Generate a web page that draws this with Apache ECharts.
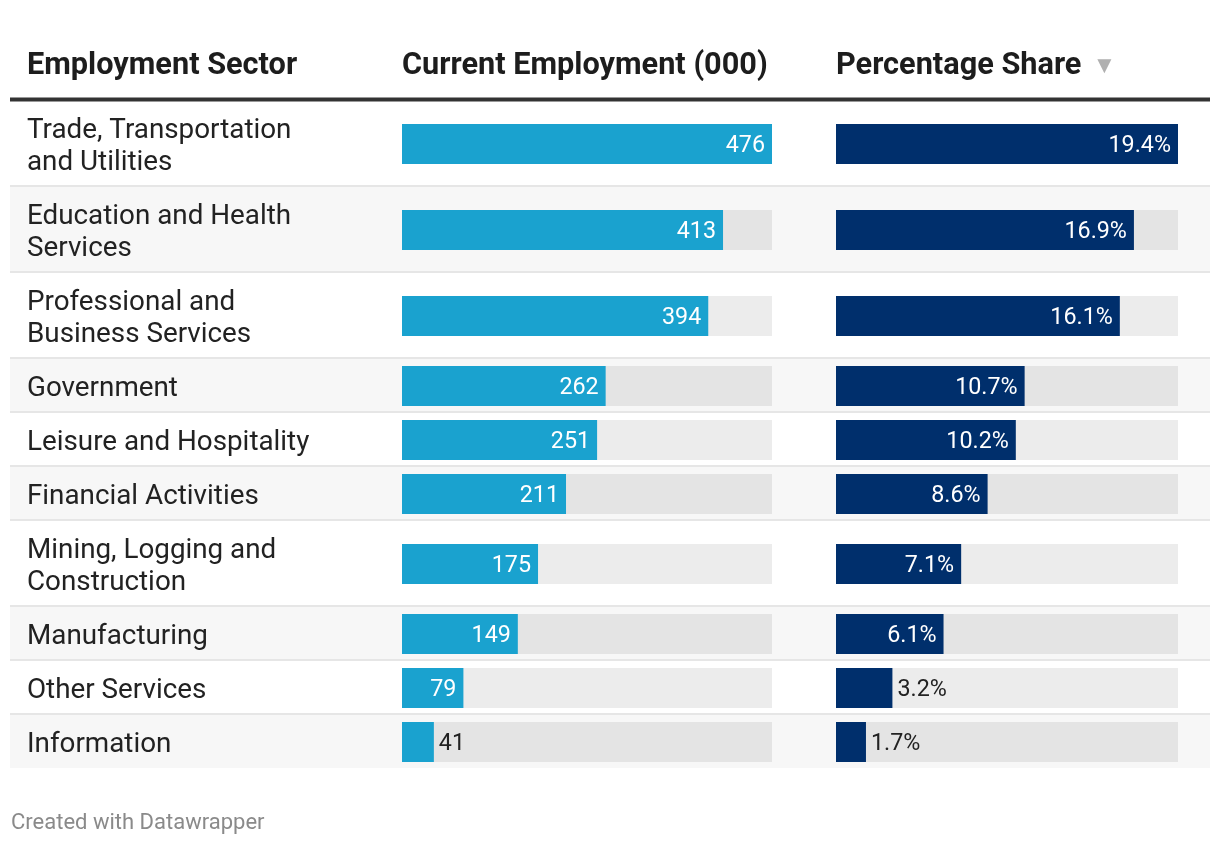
<!DOCTYPE html>
<html>
<head>
<meta charset="utf-8">
<script src="https://cdn.jsdelivr.net/npm/echarts@6/dist/echarts.min.js"></script>
<style>
html,body{margin:0;padding:0;background:#fff;}
#chart{width:1220px;height:844px;}
</style>
</head>
<body>
<div id="chart"></div>
<script>
const headers = ['Employment Sector', 'Current Employment (000)', 'Percentage Share'];
const categories = [
  'Trade, Transportation\nand Utilities',
  'Education and Health\nServices',
  'Professional and\nBusiness Services',
  'Government',
  'Leisure and Hospitality',
  'Financial Activities',
  'Mining, Logging and\nConstruction',
  'Manufacturing',
  'Other Services',
  'Information'
];
const employment = [476, 413, 394, 262, 251, 211, 175, 149, 79, 41];
const share = [19.4, 16.9, 16.1, 10.7, 10.2, 8.6, 7.1, 6.1, 3.2, 1.7];
const footer = 'Created with Datawrapper';

const FONT = 'Roboto, "Noto Sans", sans-serif';
const LABEL_SIZE = 27.8, VALUE_SIZE = 23.3, HEAD_SIZE = 30.7;
const tableLeft = 10, tableRight = 1210, tableTop = 100;
const col1X = 402, col1W = 370, col2X = 836, col2W = 342;
const barH = 40, lineH = 32, baseRowH = 54;
const c1 = '#1aa2cf', c2 = '#002f6c';

const ctx = document.createElement('canvas').getContext('2d');
function tw(text, size, weight) {
  ctx.font = (weight || 'normal') + ' ' + size + 'px ' + FONT;
  return ctx.measureText(text).width;
}

const maxEmp = Math.max(...employment);
const maxShare = Math.max(...share);

const grids = [], xAxes = [], yAxes = [], series = [], graphics = [];
let y = tableTop;
categories.forEach((cat, i) => {
  const lines = cat.split('\n').length;
  const h = baseRowH + lineH * (lines - 1);
  if (i % 2 === 1) {
    graphics.push({type: 'rect', z: -10, shape: {x: tableLeft, y: y, width: tableRight - tableLeft, height: h}, style: {fill: '#f7f7f7'}});
  }
  if (i > 0) {
    graphics.push({type: 'rect', z: -5, shape: {x: tableLeft, y: y - 1, width: tableRight - tableLeft, height: 2}, style: {fill: '#e6e6e6'}});
  }
  const top = y + (h - barH) / 2 + 1;
  // row label grid (category label of the row)
  const li = grids.length;
  grids.push({left: col1X, top: top + 3, width: col1W, height: barH, containLabel: false});
  xAxes.push({type: 'value', gridIndex: li, show: false, min: 0, max: 1});
  yAxes.push({
    type: 'category', gridIndex: li, data: [cat],
    axisLine: {show: false}, axisTick: {show: false}, splitLine: {show: false},
    axisLabel: {show: true, align: 'left', margin: col1X - 27, color: '#222',
      fontFamily: FONT, fontSize: LABEL_SIZE, lineHeight: lineH}
  });
  [[col1X, col1W, maxEmp, employment[i], c1, v => String(v)],
   [col2X, col2W, maxShare, share[i], c2, v => v.toFixed(1) + '%']].forEach((c, k) => {
    const gi = grids.length;
    grids.push({left: c[0], top: top, width: c[1], height: barH, containLabel: false});
    xAxes.push({type: 'value', gridIndex: gi, min: 0, max: c[2], show: false});
    yAxes.push({
      type: 'category', gridIndex: gi, data: [cat], show: false
    });
    const fmt = c[5];
    const text = fmt(c[3]);
    const barPx = c[3] / c[2] * c[1];
    const inside = barPx > tw(text, VALUE_SIZE) + 18;
    series.push({
      type: 'bar', xAxisIndex: gi, yAxisIndex: gi,
      data: [c[3]], barWidth: barH,
      itemStyle: {color: c[4]},
      showBackground: true,
      backgroundStyle: {color: 'rgba(0,0,0,0.075)'},
      label: {
        show: true, position: inside ? 'insideRight' : 'right',
        distance: inside ? 7 : 5,
        offset: [0, 2],
        color: inside ? '#fff' : '#222',
        fontFamily: FONT, fontSize: VALUE_SIZE,
        formatter: p => fmt(p.value)
      },
      animation: false
    });
  });
  y += h;
});

// header
const headX = [27, col1X, col2X];
headers.forEach((t, i) => {
  graphics.push({type: 'text', x: headX[i], y: 66, style: {text: t, fill: '#1d1d1d', font: 'bold ' + HEAD_SIZE + 'px ' + FONT, textVerticalAlign: 'middle'}});
});
graphics.push({type: 'text', x: col2X + tw(headers[2], HEAD_SIZE, 'bold') + 11, y: 67,
  style: {text: '▼', fill: '#b0b0b0', font: '24px ' + FONT, textVerticalAlign: 'middle'}});
graphics.push({type: 'rect', shape: {x: tableLeft, y: 97.5, width: tableRight - tableLeft, height: 4}, style: {fill: '#333333'}});
graphics.push({type: 'text', x: 11, y: 823, style: {text: footer, fill: '#8a8a8a', font: '22px ' + FONT, textVerticalAlign: 'middle'}});

const chart = echarts.init(document.getElementById('chart'), null, {renderer: 'canvas'});
chart.setOption({
  backgroundColor: '#ffffff',
  animation: false,
  grid: grids, xAxis: xAxes, yAxis: yAxes, series: series,
  graphic: {elements: graphics}
});
</script>
</body>
</html>
